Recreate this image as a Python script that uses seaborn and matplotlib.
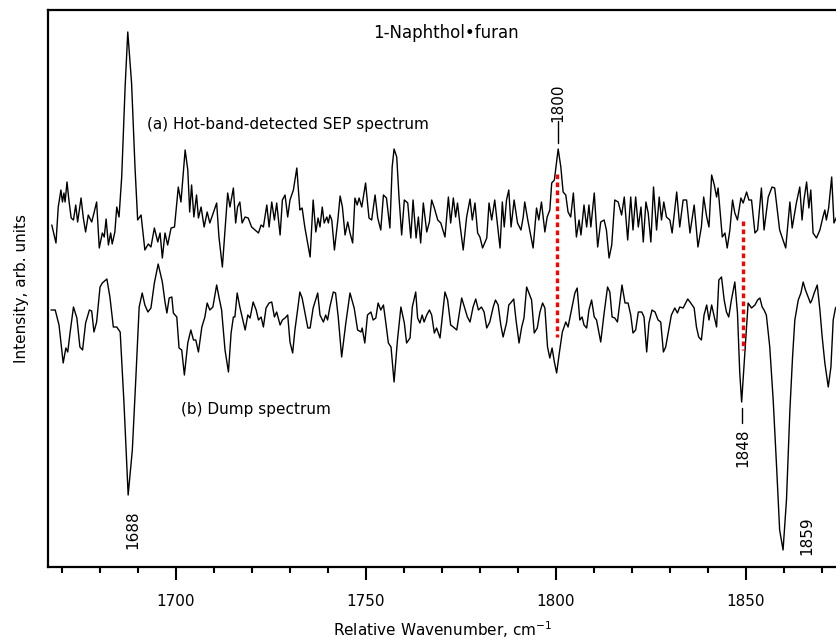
import numpy as np
import pandas as pd
import seaborn as sns
import matplotlib
matplotlib.use("Agg")
import matplotlib.pyplot as plt

# ---- data ----
sep_wn = [1667.3, 1668.4, 1669.0, 1669.7, 1670.1, 1670.5, 1670.8, 1671.3, 1671.8, 1672.4,
          1673.0, 1673.6, 1674.1, 1675.0, 1675.6, 1676.2, 1676.9, 1677.8, 1678.4, 1679.1,
          1679.8, 1680.6, 1681.1, 1681.6, 1682.2, 1682.8, 1683.2, 1683.9, 1684.4, 1685.0,
          1685.7, 1686.6, 1687.3, 1688.3, 1689.2, 1689.9, 1690.8, 1691.8, 1692.7, 1693.4,
          1694.3, 1695.2, 1695.8, 1696.4, 1697.1, 1697.8, 1698.7, 1699.6, 1700.6, 1701.3,
          1702.4, 1703.1, 1703.6, 1704.1, 1704.7, 1705.4, 1705.9, 1706.6, 1707.4, 1708.2,
          1708.9, 1709.8, 1710.7, 1711.3, 1712.2, 1712.9, 1713.6, 1714.2, 1715.1, 1715.7,
          1716.2, 1716.8, 1717.4, 1718.2, 1719.0, 1719.9, 1720.8, 1721.7, 1722.4, 1723.0,
          1723.9, 1724.5, 1725.2, 1725.9, 1726.5, 1727.4, 1728.0, 1728.7, 1729.4, 1730.0,
          1730.9, 1731.8, 1732.6, 1733.2, 1733.9, 1735.3, 1736.1, 1736.8, 1737.4, 1737.9,
          1738.5, 1739.0, 1739.7, 1740.1, 1740.5, 1741.0, 1741.7, 1742.6, 1743.2, 1743.8,
          1744.5, 1745.2, 1745.8, 1746.5, 1747.1, 1747.7, 1748.2, 1748.9, 1749.9, 1750.8,
          1751.5, 1752.4, 1753.1, 1753.9, 1754.6, 1755.4, 1756.3, 1756.9, 1757.4, 1758.1,
          1758.7, 1759.4, 1760.1, 1761.0, 1761.8, 1762.4, 1763.2, 1763.8, 1764.4, 1765.1,
          1766.0, 1766.7, 1767.3, 1768.0, 1768.9, 1769.7, 1770.8, 1771.7, 1772.3, 1773.0,
          1773.6, 1774.1, 1774.7, 1775.6, 1776.5, 1777.4, 1778.0, 1778.7, 1779.4, 1780.0,
          1780.7, 1781.8, 1782.4, 1783.1, 1783.9, 1784.7, 1785.3, 1785.9, 1786.4, 1787.0,
          1787.6, 1788.2, 1789.0, 1789.9, 1790.8, 1791.4, 1791.8, 1792.6, 1793.2, 1794.0,
          1794.9, 1795.5, 1796.2, 1797.1, 1797.7, 1798.4, 1798.9, 1799.6, 1800.6, 1801.3,
          1801.9, 1802.6, 1803.2, 1803.9, 1804.6, 1805.4, 1806.1, 1806.6, 1807.4, 1808.1,
          1808.7, 1809.2, 1810.1, 1811.0, 1811.8, 1812.7, 1813.3, 1814.0, 1814.7, 1815.5,
          1816.4, 1817.3, 1818.0, 1818.9, 1819.7, 1820.3, 1821.0, 1821.7, 1822.4, 1823.0,
          1823.7, 1824.3, 1825.0, 1825.7, 1826.5, 1827.2, 1827.8, 1828.4, 1829.1, 1830.0,
          1830.6, 1831.8, 1832.6, 1833.5, 1834.4, 1835.3, 1836.4, 1837.4, 1838.3, 1838.9,
          1839.7, 1840.3, 1841.0, 1841.7, 1842.3, 1842.7, 1843.8, 1844.5, 1845.1, 1845.8,
          1846.5, 1847.1, 1847.8, 1848.7, 1849.3, 1850.2, 1850.8, 1851.5, 1852.4, 1853.1,
          1854.1, 1854.8, 1855.9, 1856.9, 1857.6, 1858.9, 1859.8, 1860.5, 1861.6, 1862.2,
          1863.3, 1864.2, 1864.8, 1865.3, 1866.0, 1866.6, 1867.1, 1867.7, 1868.6, 1869.5,
          1870.3, 1870.8, 1871.2, 1871.8, 1872.6, 1873.2, 1873.9]
sep_int = [3.42, 3.24, 3.60, 3.77, 3.65, 3.74, 3.65, 3.85, 3.67, 3.49,
           3.47, 3.62, 3.45, 3.69, 3.49, 3.35, 3.52, 3.45, 3.54, 3.65,
           3.19, 3.34, 3.30, 3.48, 3.22, 3.34, 3.23, 3.35, 3.60, 3.50,
           3.90, 4.80, 5.35, 4.84, 4.00, 3.47, 3.52, 3.17, 3.23, 3.20,
           3.39, 3.25, 3.34, 3.09, 3.34, 3.22, 3.39, 3.40, 3.80, 3.65,
           4.17, 3.97, 3.55, 3.82, 3.50, 3.72, 3.49, 3.60, 3.40, 3.55,
           3.44, 3.54, 3.64, 3.30, 3.00, 3.37, 3.74, 3.60, 3.79, 3.44,
           3.60, 3.65, 3.44, 3.50, 3.49, 3.40, 3.37, 3.34, 3.42, 3.40,
           3.62, 3.40, 3.65, 3.47, 3.64, 3.32, 3.67, 3.72, 3.50, 3.67,
           3.77, 3.99, 3.57, 3.59, 3.40, 3.10, 3.67, 3.35, 3.49, 3.40,
           3.60, 3.44, 3.50, 3.44, 3.52, 3.47, 3.17, 3.47, 3.71, 3.60,
           3.32, 3.45, 3.34, 3.24, 3.69, 3.62, 3.69, 3.60, 3.84, 3.49,
           3.47, 3.72, 3.49, 3.37, 3.72, 3.69, 3.39, 4.00, 4.18, 4.10,
           3.70, 3.32, 3.67, 3.64, 3.29, 3.67, 3.29, 3.50, 3.24, 3.64,
           3.35, 3.45, 3.67, 3.59, 3.47, 3.44, 3.30, 3.70, 3.44, 3.69,
           3.50, 3.64, 3.44, 3.17, 3.50, 3.68, 3.47, 3.64, 3.34, 3.30,
           3.19, 3.29, 3.64, 3.47, 3.67, 3.40, 3.19, 3.65, 3.40, 3.67,
           3.77, 3.40, 3.67, 3.44, 3.37, 3.50, 3.65, 3.47, 3.35, 3.19,
           3.59, 3.47, 3.65, 3.35, 3.50, 3.57, 3.84, 3.87, 4.18, 4.00,
           3.75, 3.72, 3.55, 3.50, 3.74, 3.30, 3.47, 3.32, 3.62, 3.40,
           3.62, 3.40, 3.74, 3.20, 3.45, 3.47, 3.37, 3.09, 3.22, 3.67,
           3.65, 3.52, 3.70, 3.27, 3.70, 3.37, 3.70, 3.40, 3.60, 3.25,
           3.65, 3.54, 3.25, 3.80, 3.37, 3.70, 3.47, 3.65, 3.50, 3.47,
           3.34, 3.75, 3.40, 3.67, 3.67, 3.34, 3.62, 3.20, 3.40, 3.70,
           3.50, 3.40, 3.92, 3.82, 3.70, 3.79, 3.30, 3.34, 3.19, 3.37,
           3.67, 3.54, 3.47, 3.69, 3.64, 3.75, 3.67, 3.67, 3.34, 3.37,
           3.79, 3.37, 3.70, 3.80, 3.79, 3.37, 3.27, 3.19, 3.65, 3.39,
           3.64, 3.80, 3.47, 3.67, 3.85, 3.59, 3.77, 3.34, 3.29, 3.37,
           3.50, 3.57, 3.47, 3.59, 3.90, 3.44, 3.50]

dump_wn = [1667.1, 1668.2, 1669.2, 1670.3, 1671.0, 1671.5, 1672.1, 1673.0, 1673.9, 1674.7,
           1675.4, 1676.2, 1677.2, 1677.8, 1678.4, 1679.1, 1680.0, 1680.6, 1681.8, 1682.6,
           1683.5, 1684.4, 1685.3, 1686.3, 1687.4, 1688.5, 1689.4, 1690.3, 1691.1, 1691.8,
           1692.6, 1693.4, 1694.3, 1695.3, 1695.8, 1696.4, 1697.1, 1697.6, 1698.2, 1698.9,
           1699.3, 1700.2, 1700.8, 1701.5, 1702.2, 1703.1, 1703.9, 1704.6, 1705.2, 1705.9,
           1706.8, 1707.6, 1708.2, 1708.9, 1709.7, 1710.7, 1711.3, 1712.0, 1712.9, 1713.8,
           1714.5, 1715.1, 1715.5, 1716.1, 1716.8, 1717.4, 1718.2, 1718.9, 1719.5, 1720.3,
           1721.1, 1721.7, 1722.4, 1723.0, 1723.7, 1724.5, 1725.2, 1725.9, 1726.5, 1727.4,
           1728.0, 1728.7, 1729.4, 1730.0, 1730.7, 1731.3, 1732.0, 1732.6, 1733.2, 1733.8,
           1734.7, 1735.3, 1736.1, 1737.3, 1737.9, 1738.8, 1739.4, 1739.9, 1740.5, 1741.4,
           1742.0, 1742.7, 1743.6, 1744.7, 1745.8, 1746.9, 1747.8, 1748.7, 1749.0, 1749.7,
           1750.4, 1751.3, 1751.9, 1752.6, 1753.2, 1753.9, 1754.6, 1755.2, 1755.9, 1756.6,
           1757.4, 1758.3, 1759.2, 1760.1, 1760.7, 1761.6, 1762.2, 1763.1, 1763.6, 1764.2,
           1764.8, 1765.3, 1766.0, 1766.7, 1767.3, 1768.0, 1768.6, 1769.5, 1770.8, 1771.5,
           1772.3, 1773.0, 1773.9, 1775.2, 1775.9, 1776.7, 1777.4, 1778.2, 1778.9, 1779.6,
           1780.4, 1781.1, 1781.8, 1782.6, 1783.5, 1784.1, 1784.8, 1785.5, 1786.1, 1787.0,
           1787.6, 1788.3, 1788.9, 1789.5, 1790.3, 1791.0, 1791.6, 1792.3, 1792.9, 1793.6,
           1794.3, 1795.1, 1795.8, 1796.5, 1797.1, 1797.8, 1798.4, 1799.0, 1799.6, 1800.2,
           1800.9, 1801.7, 1802.6, 1803.2, 1804.1, 1805.0, 1805.6, 1806.3, 1806.9, 1807.4,
           1808.1, 1808.7, 1809.4, 1810.1, 1810.7, 1811.8, 1812.7, 1813.6, 1814.2, 1814.8,
           1815.5, 1816.2, 1817.4, 1818.2, 1819.0, 1819.7, 1820.3, 1821.0, 1821.7, 1822.6,
           1823.2, 1823.9, 1824.5, 1825.3, 1826.1, 1826.9, 1827.6, 1828.3, 1828.9, 1829.6,
           1830.4, 1831.3, 1832.0, 1832.6, 1833.5, 1834.7, 1835.5, 1836.4, 1837.0, 1837.6,
           1838.3, 1839.0, 1839.7, 1840.3, 1841.0, 1841.7, 1842.3, 1842.9, 1843.6, 1844.3,
           1844.9, 1845.5, 1846.2, 1847.1, 1847.8, 1848.4, 1848.9, 1849.5, 1850.2, 1850.6,
           1851.5, 1852.4, 1853.1, 1853.7, 1854.3, 1854.8, 1855.4, 1856.3, 1857.2, 1858.1,
           1858.9, 1859.8, 1860.7, 1861.6, 1862.3, 1862.9, 1863.8, 1864.5, 1865.1, 1865.7,
           1866.4, 1867.0, 1867.4, 1868.0, 1868.8, 1869.5, 1870.1, 1870.8, 1871.7, 1872.4,
           1873.0, 1873.6, 1874.0]
dump_int = [2.57, 2.57, 2.42, 2.04, 2.19, 2.15, 2.34, 2.60, 2.49, 2.20,
            2.17, 2.44, 2.57, 2.56, 2.35, 2.45, 2.80, 2.84, 2.88, 2.70,
            2.40, 2.40, 2.35, 1.64, 0.72, 1.17, 1.87, 2.60, 2.74, 2.62,
            2.55, 2.59, 2.84, 3.03, 2.95, 2.85, 2.65, 2.54, 2.69, 2.70,
            2.54, 2.50, 2.19, 2.17, 1.92, 2.24, 2.37, 2.27, 2.27, 2.15,
            2.40, 2.50, 2.64, 2.57, 2.60, 2.82, 2.70, 2.57, 2.17, 1.95,
            2.34, 2.50, 2.50, 2.74, 2.60, 2.50, 2.37, 2.52, 2.49, 2.65,
            2.57, 2.47, 2.50, 2.40, 2.59, 2.64, 2.65, 2.50, 2.55, 2.42,
            2.47, 2.49, 2.52, 2.25, 2.14, 2.37, 2.57, 2.75, 2.69, 2.57,
            2.39, 2.39, 2.59, 2.74, 2.52, 2.45, 2.52, 2.47, 2.60, 2.75,
            2.74, 2.50, 2.10, 2.44, 2.74, 2.59, 2.37, 2.35, 2.39, 2.24,
            2.52, 2.55, 2.47, 2.49, 2.64, 2.57, 2.62, 2.45, 2.24, 2.20,
            1.85, 2.27, 2.60, 2.44, 2.24, 2.29, 2.60, 2.75, 2.49, 2.44,
            2.52, 2.45, 2.52, 2.57, 2.52, 2.34, 2.39, 2.29, 2.75, 2.67,
            2.42, 2.40, 2.37, 2.69, 2.60, 2.50, 2.45, 2.60, 2.68, 2.57,
            2.60, 2.55, 2.39, 2.45, 2.60, 2.67, 2.62, 2.42, 2.30, 2.44,
            2.62, 2.65, 2.68, 2.47, 2.24, 2.40, 2.49, 2.80, 2.74, 2.67,
            2.34, 2.39, 2.55, 2.64, 2.59, 2.20, 2.09, 2.19, 2.05, 1.94,
            2.14, 2.35, 2.45, 2.40, 2.57, 2.74, 2.79, 2.47, 2.50, 2.42,
            2.39, 2.57, 2.67, 2.50, 2.47, 2.25, 2.54, 2.80, 2.75, 2.50,
            2.49, 2.45, 2.82, 2.64, 2.64, 2.52, 2.34, 2.37, 2.55, 2.55,
            2.50, 2.15, 2.44, 2.57, 2.55, 2.47, 2.45, 2.15, 2.20, 2.35,
            2.52, 2.59, 2.54, 2.60, 2.59, 2.68, 2.64, 2.59, 2.40, 2.30,
            2.27, 2.52, 2.62, 2.47, 2.62, 2.50, 2.40, 2.87, 2.90, 2.67,
            2.55, 2.50, 2.67, 2.85, 2.54, 1.94, 1.65, 2.00, 2.40, 2.64,
            2.59, 2.62, 2.67, 2.69, 2.60, 2.57, 2.52, 2.20, 1.67, 1.00,
            0.37, 0.17, 0.67, 1.57, 2.10, 2.47, 2.67, 2.74, 2.85, 2.77,
            2.70, 2.64, 2.67, 2.74, 2.82, 2.57, 2.30, 2.04, 1.80, 2.00,
            2.47, 2.59, 2.61]

x_ticks_major = [1700, 1750, 1800, 1850]
x_ticks_minor = [1670, 1680, 1690, 1710, 1720, 1730, 1740, 1760, 1770, 1780, 1790,
                 1810, 1820, 1830, 1840, 1860, 1870]

title_text = "1-Naphthol\u2022furan"
label_a = "(a) Hot-band-detected SEP spectrum"
label_b = "(b) Dump spectrum"
peak_labels = ["1800", "1848", "1688", "1859"]

# ---- plotting ----
sns.set_theme(style="ticks")
plt.rcParams['font.family'] = ['DejaVu Sans']
plt.rcParams['text.color'] = 'black'
plt.rcParams['axes.labelcolor'] = 'black'
plt.rcParams['xtick.color'] = 'black'
plt.rcParams['xtick.labelcolor'] = 'black'

fig = plt.figure(figsize=(8.37, 6.44), dpi=100)
ax = fig.add_axes([48 / 837, 1 - 567 / 644, 1 - 48 / 837, (567 - 10) / 644])

sep_df = pd.DataFrame({"wn": sep_wn, "I": sep_int})
dump_df = pd.DataFrame({"wn": dump_wn, "I": dump_int})
sns.lineplot(data=sep_df, x="wn", y="I", sort=False, color="black", lw=1.0, ax=ax)
sns.lineplot(data=dump_df, x="wn", y="I", sort=False, color="black", lw=1.0, ax=ax)

ax.set_xlim(1666.3, 1874.0)
ax.set_ylim(0, 5.57)

# red dotted connectors
ax.plot([1800.4, 1800.4], [3.93, 2.30], color="red", lw=2.4, ls=(0, (1.4, 1.0)))
ax.plot([1849.3, 1849.3], [3.46, 2.17], color="red", lw=2.4, ls=(0, (1.4, 1.0)))

# peak labels
ax.plot([1800.5, 1800.5], [4.24, 4.46], color="black", lw=1)
ax.text(1800.5, 4.64, peak_labels[0], rotation=90, ha="center", va="center", fontsize=11)
ax.plot([1848.9, 1848.9], [1.44, 1.59], color="black", lw=1)
ax.text(1849.1, 1.19, peak_labels[1], rotation=90, ha="center", va="center", fontsize=11)
ax.text(1688.6, 0.37, peak_labels[2], rotation=90, ha="center", va="center", fontsize=11)
ax.text(1866.0, 0.31, peak_labels[3], rotation=90, ha="center", va="center", fontsize=11)

ax.text(0.504, 0.959, title_text, transform=ax.transAxes, ha="center", va="center", fontsize=12)
ax.text(0.1255, 0.795, label_a, transform=ax.transAxes, ha="left", va="center", fontsize=11)
ax.text(0.1686, 0.282, label_b, transform=ax.transAxes, ha="left", va="center", fontsize=11)

ax.set_xticks(x_ticks_major)
ax.set_xticks(x_ticks_minor, minor=True)
ax.set_yticks([])
ax.tick_params(axis="x", which="major", length=9.5, width=1.5, labelsize=11, pad=10, color="black")
ax.tick_params(axis="x", which="minor", length=4.5, width=1.5, color="black")
for s in ["left", "bottom", "top"]:
    ax.spines[s].set_linewidth(1.6)
    ax.spines[s].set_color("black")
ax.spines["right"].set_visible(False)

ax.set_xlabel("Relative Wavenumber, cm$^{-1}$", fontsize=11, labelpad=7)
ax.set_ylabel("Intensity, arb. units", fontsize=11, labelpad=14)

fig.savefig("out.png", dpi=100)
